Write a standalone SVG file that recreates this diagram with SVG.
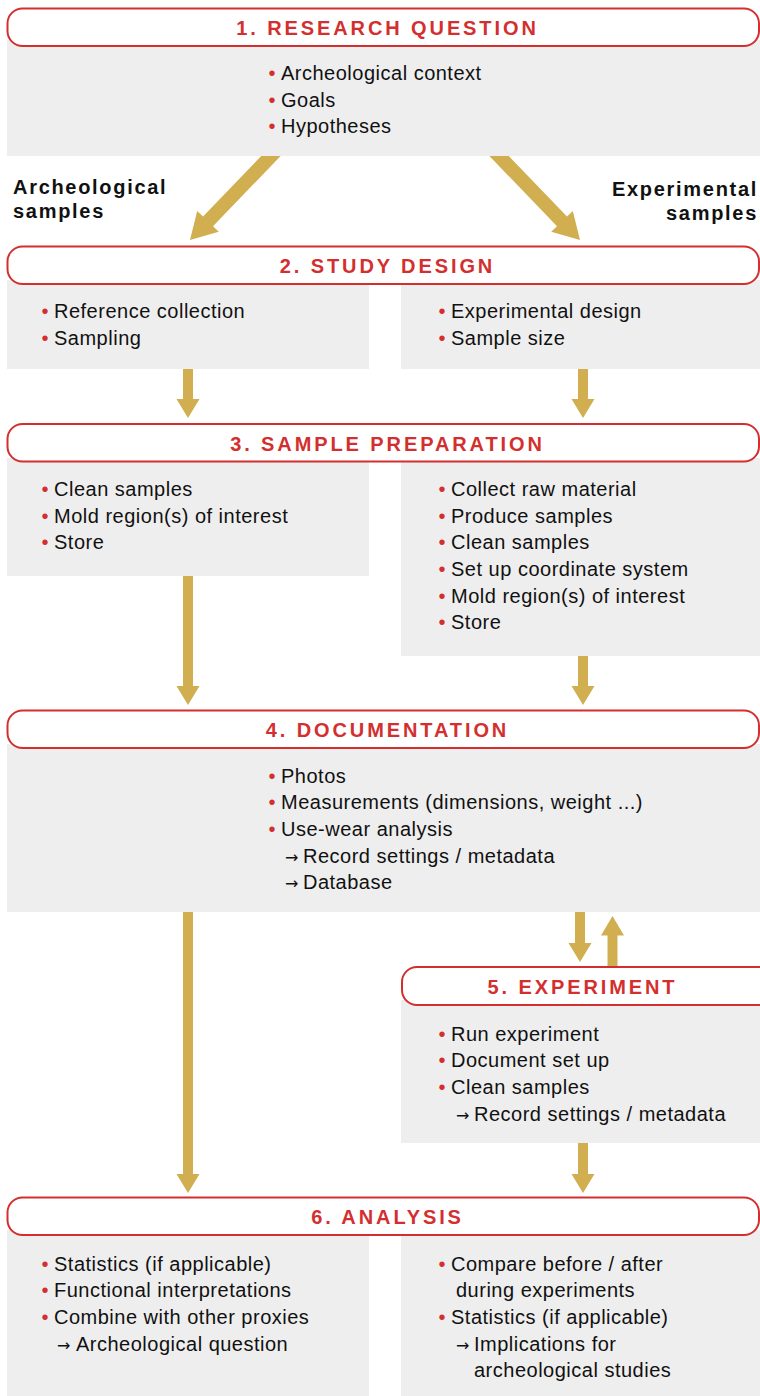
<svg xmlns="http://www.w3.org/2000/svg" width="760" height="1396" viewBox="0 0 760 1396">
<style>
.bg{fill:#eeeeee}
.hd{fill:#ffffff;stroke:#d32f2f;stroke-width:2}
.ht{font-family:"Liberation Sans",Arial,sans-serif;font-weight:bold;font-size:20px;fill:#d32f2f;letter-spacing:2.9px;text-anchor:middle}
.t{font-family:"Liberation Sans",Arial,sans-serif;font-size:20px;fill:#111111;letter-spacing:0.5px}
.b{fill:#d32f2f;letter-spacing:0}
.ar{font-family:"DejaVu Sans",sans-serif;font-size:16px;letter-spacing:0}
.lb{font-family:"Liberation Sans",Arial,sans-serif;font-weight:bold;font-size:20px;fill:#111111;letter-spacing:1.7px}
.c{fill:#d1af50}
</style>
<g id="connectors">
<polygon class="c" points="275.2,141.5 203,216.4 197.2,210.9 190,240 218.8,231.7 213,226.2 285.2,151.3"/>
<polygon class="c" points="494.8,141.5 567,216.4 572.8,210.9 580,240 551.2,231.7 557,226.2 484.8,151.3"/>
<polygon class="c" points="183,365 193,365 193,399 199.5,399 188,418 176.5,399 183,399"/>
<polygon class="c" points="578,365 588,365 588,399 594.5,399 583,418 571.5,399 578,399"/>
<polygon class="c" points="183,572 193,572 193,686 199.5,686 188,705 176.5,686 183,686"/>
<polygon class="c" points="578,652 588,652 588,686 594.5,686 583,705 571.5,686 578,686"/>
<polygon class="c" points="183,908 193,908 193,1174 199.5,1174 188,1193 176.5,1174 183,1174"/>
<polygon class="c" points="575,908 585,908 585,943 591.5,943 580,962 568.5,943 575,943"/>
<polygon class="c" points="607.5,970 617.5,970 617.5,935.5 624,935.5 612.5,916 601,935.5 607.5,935.5"/>
<polygon class="c" points="578,1139 588,1139 588,1174 594.5,1174 583,1193 571.5,1174 578,1174"/>
</g>
<g id="n1">
<rect class="bg" x="7" y="40" width="753" height="116"/>
<rect class="hd" x="7.5" y="8.5" width="751.5" height="37.5" rx="15"/>
<text class="ht" x="387.5" y="34.5">1. RESEARCH QUESTION</text>
<text class="t" y="80"><tspan class="b" x="268.5">•</tspan><tspan x="281">Archeological context</tspan></text>
<text class="t" y="106.7"><tspan class="b" x="268.5">•</tspan><tspan x="281">Goals</tspan></text>
<text class="t" y="133.3"><tspan class="b" x="268.5">•</tspan><tspan x="281">Hypotheses</tspan></text>
</g>
<g id="label-arch">
<text class="lb" x="13" y="194">Archeological</text>
<text class="lb" x="13" y="218">samples</text>
</g>
<g id="label-exp">
<text class="lb" x="758" y="196" text-anchor="end">Experimental</text>
<text class="lb" x="758" y="220" text-anchor="end">samples</text>
</g>
<g id="n2">
<rect class="bg" x="7" y="280" width="362" height="89"/>
<rect class="bg" x="401" y="280" width="359" height="89"/>
<rect class="hd" x="7.5" y="246.5" width="751.5" height="37.5" rx="15"/>
<text class="ht" x="387.5" y="273">2. STUDY DESIGN</text>
<text class="t" y="318"><tspan class="b" x="41.5">•</tspan><tspan x="54">Reference collection</tspan></text>
<text class="t" y="344.7"><tspan class="b" x="41.5">•</tspan><tspan x="54">Sampling</tspan></text>
<text class="t" y="318"><tspan class="b" x="438.5">•</tspan><tspan x="451">Experimental design</tspan></text>
<text class="t" y="344.7"><tspan class="b" x="438.5">•</tspan><tspan x="451">Sample size</tspan></text>
</g>
<g id="n3">
<rect class="bg" x="7" y="458" width="362" height="118"/>
<rect class="bg" x="401" y="458" width="359" height="198"/>
<rect class="hd" x="7.5" y="424" width="751.5" height="37.5" rx="15"/>
<text class="ht" x="387.5" y="451">3. SAMPLE PREPARATION</text>
<text class="t" y="496"><tspan class="b" x="41.5">•</tspan><tspan x="54">Clean samples</tspan></text>
<text class="t" y="522.7"><tspan class="b" x="41.5">•</tspan><tspan x="54">Mold region(s) of interest</tspan></text>
<text class="t" y="549.3"><tspan class="b" x="41.5">•</tspan><tspan x="54">Store</tspan></text>
<text class="t" y="496"><tspan class="b" x="438.5">•</tspan><tspan x="451">Collect raw material</tspan></text>
<text class="t" y="522.7"><tspan class="b" x="438.5">•</tspan><tspan x="451">Produce samples</tspan></text>
<text class="t" y="549.3"><tspan class="b" x="438.5">•</tspan><tspan x="451">Clean samples</tspan></text>
<text class="t" y="576"><tspan class="b" x="438.5">•</tspan><tspan x="451">Set up coordinate system</tspan></text>
<text class="t" y="602.7"><tspan class="b" x="438.5">•</tspan><tspan x="451">Mold region(s) of interest</tspan></text>
<text class="t" y="629.3"><tspan class="b" x="438.5">•</tspan><tspan x="451">Store</tspan></text>
</g>
<g id="n4">
<rect class="bg" x="7" y="744" width="753" height="168"/>
<rect class="hd" x="7.5" y="710.5" width="751.5" height="37.5" rx="15"/>
<text class="ht" x="387.5" y="737">4. DOCUMENTATION</text>
<text class="t" y="782.7"><tspan class="b" x="268.5">•</tspan><tspan x="281">Photos</tspan></text>
<text class="t" y="809.3"><tspan class="b" x="268.5">•</tspan><tspan x="281">Measurements (dimensions, weight ...)</tspan></text>
<text class="t" y="836"><tspan class="b" x="268.5">•</tspan><tspan x="281">Use-wear analysis</tspan></text>
<text class="t" y="862.7"><tspan class="ar" x="285">→</tspan><tspan x="303">Record settings / metadata</tspan></text>
<text class="t" y="889.3"><tspan class="ar" x="285">→</tspan><tspan x="303">Database</tspan></text>
</g>
<g id="n5">
<rect class="bg" x="401" y="1000" width="359" height="143"/>
<rect class="hd" x="402" y="967" width="757" height="38" rx="15"/>
<text class="ht" x="582.5" y="994">5. EXPERIMENT</text>
<text class="t" y="1040.7"><tspan class="b" x="438.5">•</tspan><tspan x="451">Run experiment</tspan></text>
<text class="t" y="1067.3"><tspan class="b" x="438.5">•</tspan><tspan x="451">Document set up</tspan></text>
<text class="t" y="1094"><tspan class="b" x="438.5">•</tspan><tspan x="451">Clean samples</tspan></text>
<text class="t" y="1120.7"><tspan class="ar" x="456">→</tspan><tspan x="474">Record settings / metadata</tspan></text>
</g>
<g id="n6">
<rect class="bg" x="7" y="1230" width="362" height="166"/>
<rect class="bg" x="401" y="1230" width="359" height="166"/>
<rect class="hd" x="7.5" y="1197.5" width="751.5" height="37.5" rx="15"/>
<text class="ht" x="387.5" y="1224">6. ANALYSIS</text>
<text class="t" y="1270.7"><tspan class="b" x="41.5">•</tspan><tspan x="54">Statistics (if applicable)</tspan></text>
<text class="t" y="1297.3"><tspan class="b" x="41.5">•</tspan><tspan x="54">Functional interpretations</tspan></text>
<text class="t" y="1324"><tspan class="b" x="41.5">•</tspan><tspan x="54">Combine with other proxies</tspan></text>
<text class="t" y="1350.7"><tspan class="ar" x="57">→</tspan><tspan x="76">Archeological question</tspan></text>
<text class="t" y="1270.7"><tspan class="b" x="438.5">•</tspan><tspan x="451">Compare before / after</tspan></text>
<text class="t" y="1297.3"><tspan x="456">during experiments</tspan></text>
<text class="t" y="1324"><tspan class="b" x="438.5">•</tspan><tspan x="451">Statistics (if applicable)</tspan></text>
<text class="t" y="1350.7"><tspan class="ar" x="456">→</tspan><tspan x="474">Implications for</tspan></text>
<text class="t" y="1377.3"><tspan x="474">archeological studies</tspan></text>
</g>
</svg>
